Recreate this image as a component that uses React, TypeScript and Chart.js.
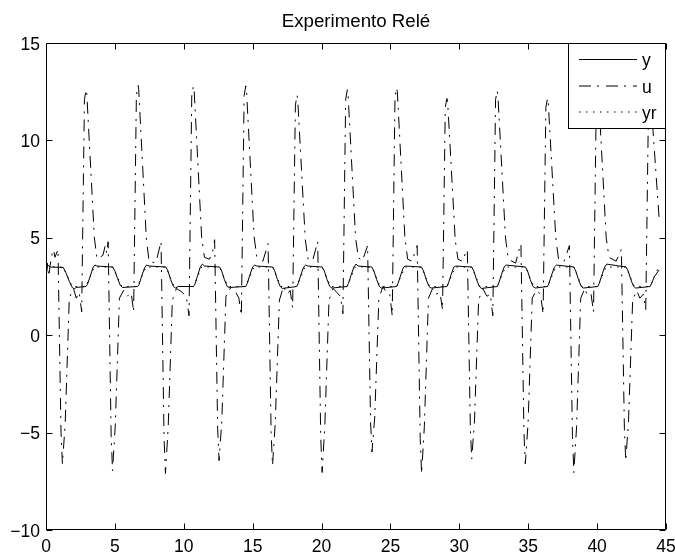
import React, { useEffect, useRef } from "react";
import { Chart, registerables } from "chart.js";

Chart.register(...registerables);

const TITLE = "Experimento Relé";
const X_TICKS = [0, 5, 10, 15, 20, 25, 30, 35, 40, 45];
const Y_TICKS = [-10, -5, 0, 5, 10, 15];
const Y_TICK_LABELS = ["\u221210", "\u22125", "0", "5", "10", "15"];
const SERIES_LABELS = ["y", "u", "yr"];

// y (solid): plant output, [time, value]
const yData: [number, number][] = [
  [0, 3.55], [0.05, 3.3], [0.1, 3.62], [0.3, 3.5], [1.25, 3.48], [1.45, 3.2], [1.7, 2.75], [1.9, 2.45],
  [2.05, 2.38], [2.2, 2.45], [2.9, 2.5], [3.0, 2.6], [3.2, 3.0], [3.4, 3.45], [3.55, 3.6], [3.7, 3.55],
  [4.85, 3.5], [5.0, 3.3], [5.2, 2.9], [5.4, 2.55], [5.55, 2.45], [6.65, 2.5], [6.75, 2.6], [6.95, 3.05],
  [7.15, 3.45], [7.3, 3.6], [7.5, 3.55], [8.7, 3.5], [8.85, 3.3], [9.05, 2.85], [9.25, 2.5], [9.4, 2.42],
  [9.6, 2.5], [10.7, 2.5], [10.8, 2.6], [11.0, 3.05], [11.2, 3.5], [11.35, 3.65], [11.5, 3.55],
  [12.6, 3.5], [12.75, 3.3], [12.95, 2.85], [13.15, 2.5], [13.3, 2.45], [14.5, 2.5], [14.6, 2.65],
  [14.8, 3.1], [15.0, 3.5], [15.15, 3.6], [15.3, 3.55], [16.45, 3.5], [16.6, 3.3], [16.8, 2.85],
  [17.0, 2.5], [17.15, 2.4], [18.2, 2.5], [18.3, 2.65], [18.5, 3.1], [18.7, 3.5], [18.85, 3.6],
  [19.0, 3.55], [20.05, 3.5], [20.2, 3.3], [20.4, 2.85], [20.6, 2.5], [20.75, 2.42], [21.85, 2.5],
  [21.95, 2.65], [22.15, 3.1], [22.35, 3.5], [22.5, 3.65], [22.65, 3.55], [23.65, 3.5], [23.8, 3.3],
  [24.0, 2.85], [24.2, 2.5], [24.35, 2.42], [25.45, 2.5], [25.55, 2.65], [25.75, 3.1], [25.95, 3.5],
  [26.1, 3.55], [27.25, 3.5], [27.4, 3.3], [27.6, 2.85], [27.8, 2.5], [27.95, 2.42], [29.1, 2.5],
  [29.2, 2.65], [29.4, 3.1], [29.6, 3.5], [29.75, 3.55], [30.9, 3.5], [31.05, 3.3], [31.25, 2.85],
  [31.45, 2.5], [31.6, 2.4], [32.75, 2.5], [32.85, 2.65], [33.05, 3.1], [33.25, 3.5], [33.4, 3.6],
  [34.8, 3.5], [34.95, 3.3], [35.15, 2.85], [35.35, 2.5], [35.5, 2.42], [36.4, 2.5], [36.5, 2.65],
  [36.7, 3.1], [36.9, 3.5], [37.05, 3.6], [38.3, 3.5], [38.45, 3.3], [38.65, 2.85], [38.85, 2.5],
  [39.0, 2.42], [40.05, 2.5], [40.15, 2.65], [40.35, 3.1], [40.55, 3.5], [40.7, 3.65], [42.1, 3.5],
  [42.25, 3.3], [42.45, 2.85], [42.65, 2.5], [42.8, 2.42], [43.85, 2.5], [43.95, 2.65], [44.15, 3.0],
  [44.5, 3.35],
];

// u (dash-dot): relay controller output, [time, value]
const uData: [number, number][] = [
  [0, 3.2], [0.1, 3.7], [0.2, 3.0], [0.3, 3.6], [0.45, 4.2], [0.55, 4.4], [0.65, 4.0], [0.87, 4.4],
  [1.09, -5.0], [1.19, -6.6], [1.39, -4.6], [1.69, 1.9], [1.99, 2.4], [2.2, 1.9], [2.41, 2.2],
  [2.59, 1.2], [2.79, 12.1], [2.91, 12.6], [2.96, 12.4], [3.51, 5.0], [3.71, 3.9], [4.13, 4.1],
  [4.3, 4.6], [4.4, 4.2], [4.51, 4.8], [4.73, -5.2], [4.83, -6.96], [5.03, -4.6], [5.33, 1.9],
  [5.63, 2.3], [5.9, 2.0], [6.18, 2.2], [6.36, 1.2], [6.56, 12.3], [6.68, 12.84], [6.73, 12.6],
  [7.28, 5.0], [7.48, 3.8], [7.97, 3.7], [8.35, 4.8], [8.57, -5.3], [8.67, -7.1], [8.87, -4.7],
  [9.17, 1.8], [9.47, 2.4], [9.9, 2.2], [10.2, 1.9], [10.38, 1.0], [10.58, 12.3], [10.7, 12.8],
  [10.75, 12.6], [11.3, 5.0], [11.5, 4.0], [11.86, 3.9], [12.1, 4.3], [12.24, 4.9], [12.46, -4.8],
  [12.56, -6.44], [12.76, -4.4], [13.06, 2.0], [13.36, 2.4], [13.7, 2.3], [14.0, 1.9], [14.18, 1.0],
  [14.38, 12.3], [14.5, 12.8], [14.55, 12.6], [15.1, 5.1], [15.3, 4.0], [15.74, 3.8], [16.12, 4.7],
  [16.34, -5.0], [16.44, -6.7], [16.64, -4.5], [16.94, 1.8], [17.24, 2.5], [17.5, 2.1], [17.72, 2.3],
  [17.9, 1.4], [18.1, 11.8], [18.22, 12.32], [18.27, 12.1], [18.82, 4.9], [19.02, 3.9], [19.34, 3.8],
  [19.72, 4.8], [19.94, -5.2], [20.04, -7.05], [20.24, -4.6], [20.54, 1.8], [20.84, 2.4], [21.1, 2.2],
  [21.37, 2.0], [21.55, 1.1], [21.75, 12.1], [21.87, 12.6], [21.92, 12.4], [22.47, 5.0], [22.67, 4.0],
  [22.96, 3.8], [23.34, 4.6], [23.56, -4.5], [23.66, -6.0], [23.86, -4.2], [24.16, 1.9], [24.46, 2.5],
  [24.7, 2.2], [24.95, 2.1], [25.13, 1.0], [25.33, 12.2], [25.45, 12.71], [25.5, 12.5], [26.05, 5.0],
  [26.25, 3.9], [26.56, 3.8], [26.94, 4.6], [27.16, -5.3], [27.26, -7.1], [27.46, -4.7], [27.76, 1.9],
  [28.06, 2.4], [28.3, 2.1], [28.6, 2.2], [28.78, 1.3], [28.98, 11.7], [29.1, 12.15], [29.15, 12.0],
  [29.7, 4.9], [29.9, 3.9], [30.2, 3.8], [30.58, 4.4], [30.8, -4.8], [30.9, -6.35], [31.1, -4.4],
  [31.4, 1.8], [31.7, 2.4], [32.0, 2.0], [32.25, 2.1], [32.43, 1.0], [32.63, 12.1], [32.75, 12.54],
  [32.8, 12.3], [33.35, 5.0], [33.55, 3.9], [34.09, 3.7], [34.3, 4.3], [34.47, 4.7], [34.69, -5.0],
  [34.79, -6.6], [34.99, -4.5], [35.29, 1.9], [35.59, 2.3], [35.9, 2.1], [36.08, 1.1], [36.28, 11.7],
  [36.4, 12.15], [36.45, 12.0], [37.0, 5.0], [37.2, 3.9], [37.61, 3.8], [37.99, 4.6], [38.21, -5.2],
  [38.31, -7.05], [38.51, -4.7], [38.81, 1.9], [39.11, 2.4], [39.3, 2.0], [39.56, 2.1], [39.74, 1.2],
  [39.94, 12.0], [40.06, 12.5], [40.11, 12.3], [40.66, 5.0], [40.86, 4.0], [41.38, 3.8], [41.76, 4.4],
  [41.98, -4.8], [42.08, -6.44], [42.28, -4.4], [42.58, 1.8], [42.88, 2.3], [43.1, 1.9], [43.35, 2.1],
  [43.53, 1.3], [43.73, 11.8], [43.85, 12.3], [43.9, 12.1], [44.5, 6.0],
];

// yr (dotted): reference trajectory, lying under y, [time, value]
const yrData: [number, number][] = [
  [0, 3.5], [1.25, 3.5], [1.9, 2.5], [2.9, 2.5], [3.5, 3.5], [4.85, 3.5], [5.5, 2.5], [6.65, 2.5],
  [7.25, 3.5], [8.7, 3.5], [9.3, 2.5], [10.7, 2.5], [11.3, 3.5], [12.6, 3.5], [13.2, 2.5], [14.5, 2.5],
  [15.1, 3.5], [16.45, 3.5], [17.05, 2.5], [18.2, 2.5], [18.8, 3.5], [20.05, 3.5], [20.65, 2.5],
  [21.85, 2.5], [22.45, 3.5], [23.65, 3.5], [24.25, 2.5], [25.45, 2.5], [26.05, 3.5], [27.25, 3.5],
  [27.85, 2.5], [29.1, 2.5], [29.7, 3.5], [30.9, 3.5], [31.5, 2.5], [32.75, 2.5], [33.35, 3.5],
  [34.8, 3.5], [35.4, 2.5], [36.4, 2.5], [37.0, 3.5], [38.3, 3.5], [38.9, 2.5], [40.05, 2.5],
  [40.65, 3.5], [42.1, 3.5], [42.7, 2.5], [43.85, 2.5], [44.45, 3.5], [44.5, 3.5],
];

const FONT = '"Liberation Sans", Arial, Helvetica, sans-serif';
const DASH_U = [12, 6, 2, 7];
const DASH_YR = [1.5, 5.5];

export default function App() {
  const ref = useRef<HTMLCanvasElement | null>(null);

  useEffect(() => {
    document.body.style.margin = "0";
    const canvas = ref.current;
    if (!canvas) return;

    const decor = {
      id: "matlabDecor",
      afterDraw(chart: any) {
        const { ctx, chartArea: a, scales } = chart;
        const xs = scales.x;
        const ys = scales.y;
        ctx.save();
        ctx.strokeStyle = "#000";
        ctx.fillStyle = "#000";
        ctx.lineWidth = 1;
        ctx.setLineDash([]);
        // axes box
        const L = a.left + 0.5, R = a.right - 0.5, T = a.top + 0.5, B = a.bottom - 0.5;
        ctx.beginPath();
        ctx.rect(L, T, R - L, B - T);
        ctx.stroke();
        // inward ticks
        const tl = 6;
        ctx.beginPath();
        X_TICKS.forEach((v) => {
          const px = Math.round(xs.getPixelForValue(v)) + 0.5;
          ctx.moveTo(px, B); ctx.lineTo(px, B - tl);
          ctx.moveTo(px, T); ctx.lineTo(px, T + tl);
        });
        Y_TICKS.forEach((v) => {
          const py = Math.round(ys.getPixelForValue(v)) + 0.5;
          ctx.moveTo(L, py); ctx.lineTo(L + tl, py);
          ctx.moveTo(R, py); ctx.lineTo(R - tl, py);
        });
        ctx.stroke();
        // tick labels
        ctx.font = `17.5px ${FONT}`;
        ctx.textBaseline = "alphabetic";
        ctx.textAlign = "center";
        X_TICKS.forEach((v) => {
          ctx.fillText(String(v), xs.getPixelForValue(v), 551.5);
        });
        ctx.textAlign = "right";
        Y_TICKS.forEach((v, i) => {
          ctx.fillText(Y_TICK_LABELS[i], a.left - 6, ys.getPixelForValue(v) + 6.5);
        });
        // title
        ctx.textAlign = "center";
        ctx.font = `18.7px ${FONT}`;
        ctx.fillText(TITLE, (a.left + a.right) / 2, 26.5);
        // legend
        const lx0 = 568, lx1 = a.right, ly0 = a.top, ly1 = 129;
        ctx.fillStyle = "#fff";
        ctx.fillRect(lx0, ly0, lx1 - lx0, ly1 - ly0);
        ctx.strokeRect(lx0 + 0.5, ly0 + 0.5, lx1 - lx0 - 1, ly1 - ly0 - 1);
        const rows = [59.5, 86, 112];
        const dashes = [[], DASH_U, DASH_YR];
        ctx.fillStyle = "#000";
        ctx.font = `17.5px ${FONT}`;
        ctx.textAlign = "left";
        rows.forEach((ry, i) => {
          ctx.beginPath();
          ctx.setLineDash(dashes[i]);
          ctx.moveTo(579, ry);
          ctx.lineTo(637, ry);
          ctx.stroke();
          ctx.setLineDash([]);
          ctx.fillText(SERIES_LABELS[i], 642, ry + 6.5);
        });
        ctx.restore();
      },
    };

    const toXY = (arr: [number, number][]) => arr.map(([x, y]) => ({ x, y }));

    const chart = new Chart(canvas, {
      type: "line",
      data: {
        datasets: [
          {
            label: SERIES_LABELS[0],
            data: toXY(yData),
            borderColor: "#000",
            borderWidth: 1,
            pointRadius: 0,
            fill: false,
          },
          {
            label: SERIES_LABELS[1],
            data: toXY(uData),
            borderColor: "#000",
            borderWidth: 1,
            borderDash: DASH_U,
            pointRadius: 0,
            fill: false,
          },
          {
            label: SERIES_LABELS[2],
            data: toXY(yrData),
            borderColor: "#000",
            borderWidth: 1,
            borderDash: DASH_YR,
            pointRadius: 0,
            fill: false,
          },
        ],
      },
      options: {
        responsive: false,
        animation: false,
        events: [],
        layout: { padding: { left: 0, right: 9, top: 43, bottom: 0 } },
        plugins: {
          legend: { display: false },
          title: { display: false },
          tooltip: { enabled: false },
        },
        scales: {
          x: {
            type: "linear",
            min: 0,
            max: 45,
            ticks: { display: false, stepSize: 5 },
            grid: { display: false },
            border: { display: false },
            afterFit: (s: any) => { s.height = 24; },
          },
          y: {
            type: "linear",
            min: -10,
            max: 15,
            ticks: { display: false, stepSize: 5 },
            grid: { display: false },
            border: { display: false },
            afterFit: (s: any) => { s.width = 46; },
          },
        },
      },
      plugins: [decor],
    } as any);

    return () => chart.destroy();
  }, []);

  return (
    <div style={{ width: 675, height: 554, background: "#fff" }}>
      <canvas ref={ref} width={675} height={554} style={{ display: "block" }} />
    </div>
  );
}
